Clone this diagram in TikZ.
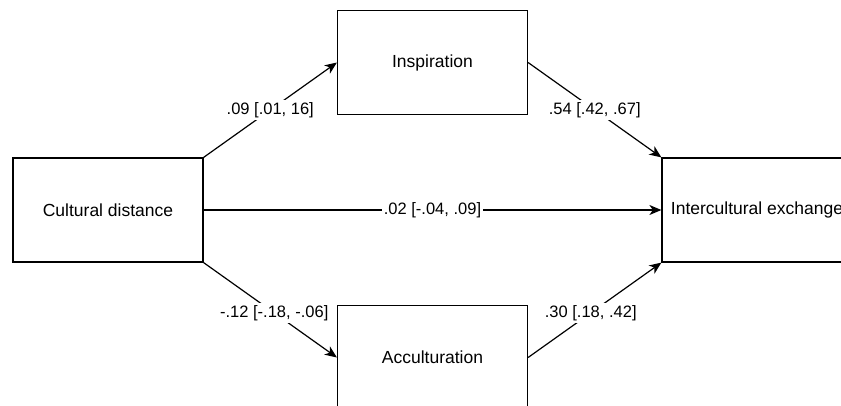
\documentclass[tikz,border=0pt]{standalone}
\usepackage{fontspec}
\setmainfont{Liberation Sans}
\usetikzlibrary{arrows.meta}
\begin{document}
\begin{tikzpicture}[x=1pt,y=-1pt,
  box/.style={draw=black,line width=1.2pt,fill=white,minimum width=190pt,minimum height=104pt,inner sep=0pt,font=\fontsize{17.5}{20}\selectfont},
  conn/.style={draw=black,line width=1.2pt,-{Stealth[length=12pt,width=10pt,inset=3.5pt]}},
  lbl/.style={fill=white,inner sep=2pt,font=\fontsize{16.5}{19}\selectfont}]
\useasboundingbox (0,0) rectangle (841,405);
\clip (0,0) rectangle (841,405);
\node[box] (cd) at (108,210) {Cultural distance};
\node[box] (ins) at (432.5,62.5) {Inspiration};
\node[box] (acc) at (432.5,357.5) {Acculturation};
\node[box] (ice) at (757,210) {Intercultural exchange};
\draw[conn] (cd.north east) -- node[lbl] {.09 [.01, 16]} (ins.west);
\draw[conn] (ins.east) -- node[lbl] {.54 [.42, .67]} (ice.north west);
\draw[conn] (cd.east) -- node[lbl] {.02 [-.04, .09]} (ice.west);
\draw[conn] (cd.south east) -- node[lbl,pos=0.53] {-.12 [-.18, -.06]} (acc.west);
\draw[conn] (acc.east) -- node[lbl,pos=0.47] {.30 [.18, .42]} (ice.south west);
\end{tikzpicture}
\end{document}
